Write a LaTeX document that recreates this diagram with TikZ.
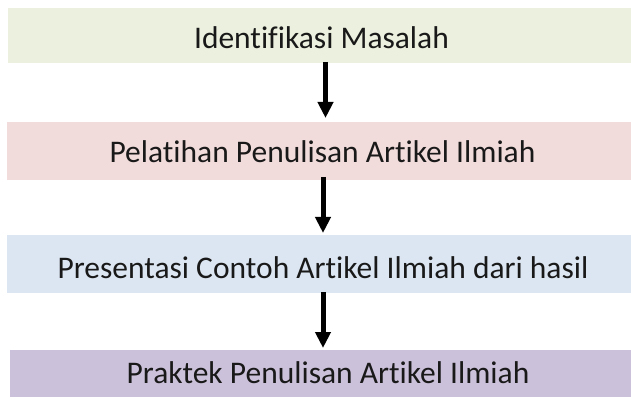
\documentclass[tikz,border=0pt]{standalone}
\usepackage{fontspec}
\setmainfont[Ligatures={NoCommon,NoRequired,NoContextual}]{Carlito}
\usetikzlibrary{arrows.meta}
\definecolor{cGreen}{HTML}{EBF1DE}
\definecolor{cPink}{HTML}{F2DCDB}
\definecolor{cBlue}{HTML}{DCE6F2}
\definecolor{cPurple}{HTML}{CCC1DA}
\begin{document}
\begin{tikzpicture}[x=1pt,y=-1pt,
  bar/.style={draw=none,inner sep=0pt,outer sep=0pt},
  lbl/.style={inner sep=0pt,anchor=base,font=\fontsize{31.5}{36}\selectfont,text=black!90},
  flow/.style={line width=5pt,-{Triangle[length=16pt,width=15pt]}}]
\useasboundingbox (0,0) rectangle (631,403);
\fill[cGreen] (8,8) rectangle (631,63);
\fill[cPink] (7,122) rectangle (631,180);
\fill[cBlue] (7,235) rectangle (631,293);
\fill[cPurple] (10,350) rectangle (631,397);
\node[lbl] (t1) at (321.5,49) {Identifikasi Masalah};
\node[lbl] (t2) at (322.5,163) {Pelatihan Penulisan Artikel Ilmiah};
\node[lbl] (t3) at (323,278) {Presentasi Contoh Artikel Ilmiah dari hasil};
\node[lbl] (t4) at (328,383) {Praktek Penulisan Artikel Ilmiah};
\coordinate (a1s) at (325.5,62);
\coordinate (a1e) at (325.5,118);
\coordinate (a2s) at (323,177);
\coordinate (a2e) at (323,233);
\coordinate (a3s) at (323,292);
\coordinate (a3e) at (323,348);
\draw[flow] (a1s) -- (a1e);
\draw[flow] (a2s) -- (a2e);
\draw[flow] (a3s) -- (a3e);
\end{tikzpicture}
\end{document}
